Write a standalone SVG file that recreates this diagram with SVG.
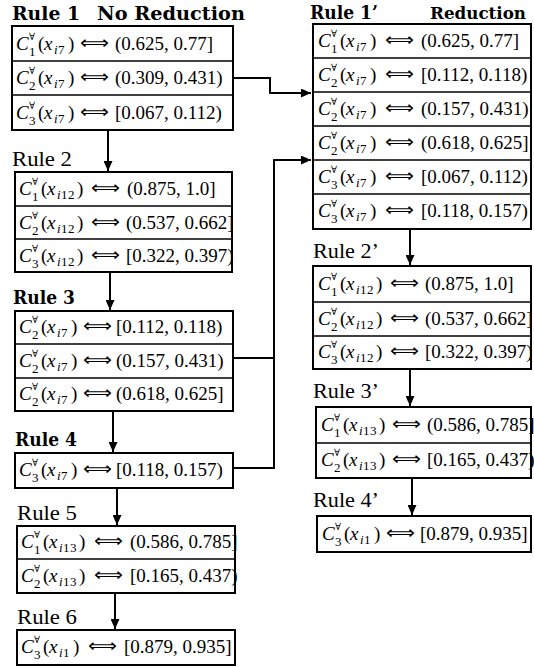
<svg xmlns="http://www.w3.org/2000/svg" width="534" height="668" viewBox="0 0 534 668">
<defs>
<style>
.bx{fill:#fff;stroke:#000;stroke-width:2}
.dv{stroke:#000;stroke-width:1.6}
.m{font-family:"Liberation Serif","DejaVu Serif",serif;font-size:19px;fill:#000}
.i{font-style:italic}
.sp{font-family:"DejaVu Serif",serif;font-size:10px}
.sb{font-size:13px}
.ar{font-family:"DejaVu Sans",sans-serif;font-size:18px;fill:#000}
.t{font-family:"Liberation Serif","DejaVu Serif",serif;font-size:21px;fill:#000}
.b{font-family:"DejaVu Serif",serif;font-weight:bold;font-size:19px}
.cn{fill:none;stroke:#000;stroke-width:2}
</style>
<marker id="ah" markerUnits="userSpaceOnUse" markerWidth="10" markerHeight="9" refX="10" refY="4.5" orient="auto">
<path d="M0,0 L10,4.5 L0,9 z" fill="#000"/>
</marker>
</defs>
<rect width="534" height="668" fill="#fff"/>

<g id="connectors">
<path class="cn" d="M233,78 H270 V93 H311" marker-end="url(#ah)"/>
<path class="cn" d="M233,358 H274 V160 H311" marker-end="url(#ah)"/>
<path class="cn" d="M233,468 H274 V357"/>
<path class="cn" d="M108,131 V171" marker-end="url(#ah)"/>
<path class="cn" d="M110,272 V310" marker-end="url(#ah)"/>
<path class="cn" d="M113,411 V452" marker-end="url(#ah)"/>
<path class="cn" d="M117,488 V525" marker-end="url(#ah)"/>
<path class="cn" d="M115,593 V629" marker-end="url(#ah)"/>
<path class="cn" d="M410,229 V265" marker-end="url(#ah)"/>
<path class="cn" d="M410,369 V406" marker-end="url(#ah)"/>
<path class="cn" d="M412,478 V515" marker-end="url(#ah)"/>
</g>

<g id="rule1">
<text class="t b" x="12" y="20" textLength="68" lengthAdjust="spacingAndGlyphs">Rule 1</text>
<text class="t b" x="97" y="20" textLength="148" lengthAdjust="spacingAndGlyphs">No Reduction</text>
<rect class="bx" x="12" y="26" width="221" height="104"/>
<line class="dv" x1="12" y1="61" x2="233" y2="61"/>
<line class="dv" x1="12" y1="95" x2="233" y2="95"/>
<text class="m" y="50"><tspan class="i" x="16">C</tspan><tspan class="sp" x="29" y="40">∀</tspan><tspan class="sb" x="29" y="56">1</tspan><tspan x="38" y="50">(</tspan><tspan class="i" x="44">x</tspan><tspan class="sb i" x="54" y="54">i</tspan><tspan class="sb" x="58">7</tspan><tspan x="68" y="50">)</tspan></text>
<text class="ar" x="80" y="49" textLength="29" lengthAdjust="spacingAndGlyphs">⟺</text>
<text class="m" x="115" y="50">(0.625, 0.77]</text>
<text class="m" y="84"><tspan class="i" x="16">C</tspan><tspan class="sp" x="29" y="74">∀</tspan><tspan class="sb" x="29" y="90">2</tspan><tspan x="38" y="84">(</tspan><tspan class="i" x="44">x</tspan><tspan class="sb i" x="54" y="88">i</tspan><tspan class="sb" x="58">7</tspan><tspan x="68" y="84">)</tspan></text>
<text class="ar" x="80" y="83" textLength="29" lengthAdjust="spacingAndGlyphs">⟺</text>
<text class="m" x="115" y="84">(0.309, 0.431)</text>
<text class="m" y="119"><tspan class="i" x="16">C</tspan><tspan class="sp" x="29" y="109">∀</tspan><tspan class="sb" x="29" y="125">3</tspan><tspan x="38" y="119">(</tspan><tspan class="i" x="44">x</tspan><tspan class="sb i" x="54" y="123">i</tspan><tspan class="sb" x="58">7</tspan><tspan x="68" y="119">)</tspan></text>
<text class="ar" x="80" y="118" textLength="29" lengthAdjust="spacingAndGlyphs">⟺</text>
<text class="m" x="115" y="119">[0.067, 0.112)</text>
</g>

<g id="rule2">
<text class="t" x="12" y="166" textLength="60" lengthAdjust="spacingAndGlyphs">Rule 2</text>
<rect class="bx" x="15" y="172" width="217" height="100"/>
<line class="dv" x1="15" y1="206" x2="232" y2="206"/>
<line class="dv" x1="15" y1="239" x2="232" y2="239"/>
<text class="m" y="195"><tspan class="i" x="19">C</tspan><tspan class="sp" x="32" y="185">∀</tspan><tspan class="sb" x="32" y="201">1</tspan><tspan x="41" y="195">(</tspan><tspan class="i" x="47">x</tspan><tspan class="sb i" x="57" y="199">i</tspan><tspan class="sb" x="61 68">12</tspan><tspan x="77" y="195">)</tspan></text>
<text class="ar" x="91" y="194" textLength="29" lengthAdjust="spacingAndGlyphs">⟺</text>
<text class="m" x="127" y="195">(0.875, 1.0]</text>
<text class="m" y="229"><tspan class="i" x="19">C</tspan><tspan class="sp" x="32" y="219">∀</tspan><tspan class="sb" x="32" y="235">2</tspan><tspan x="41" y="229">(</tspan><tspan class="i" x="47">x</tspan><tspan class="sb i" x="57" y="233">i</tspan><tspan class="sb" x="61 68">12</tspan><tspan x="77" y="229">)</tspan></text>
<text class="ar" x="91" y="228" textLength="29" lengthAdjust="spacingAndGlyphs">⟺</text>
<text class="m" x="126" y="229">(0.537, 0.662]</text>
<text class="m" y="262"><tspan class="i" x="19">C</tspan><tspan class="sp" x="32" y="252">∀</tspan><tspan class="sb" x="32" y="268">3</tspan><tspan x="41" y="262">(</tspan><tspan class="i" x="47">x</tspan><tspan class="sb i" x="57" y="266">i</tspan><tspan class="sb" x="61 68">12</tspan><tspan x="77" y="262">)</tspan></text>
<text class="ar" x="91" y="261" textLength="29" lengthAdjust="spacingAndGlyphs">⟺</text>
<text class="m" x="126" y="262">[0.322, 0.397)</text>
<rect x="15" y="172" width="217" height="100" fill="none" stroke="#000" stroke-width="2"/>
</g>

<g id="rule3">
<text class="t b" x="13" y="304" textLength="62" lengthAdjust="spacingAndGlyphs">Rule 3</text>
<rect class="bx" x="15" y="311" width="218" height="100"/>
<line class="dv" x1="15" y1="344" x2="233" y2="344"/>
<line class="dv" x1="15" y1="378" x2="233" y2="378"/>
<text class="m" y="333"><tspan class="i" x="19">C</tspan><tspan class="sp" x="32" y="323">∀</tspan><tspan class="sb" x="32" y="339">2</tspan><tspan x="41" y="333">(</tspan><tspan class="i" x="47">x</tspan><tspan class="sb i" x="57" y="337">i</tspan><tspan class="sb" x="61">7</tspan><tspan x="71" y="333">)</tspan></text>
<text class="ar" x="83" y="332" textLength="29" lengthAdjust="spacingAndGlyphs">⟺</text>
<text class="m" x="116" y="333">[0.112, 0.118)</text>
<text class="m" y="367"><tspan class="i" x="19">C</tspan><tspan class="sp" x="32" y="357">∀</tspan><tspan class="sb" x="32" y="373">2</tspan><tspan x="41" y="367">(</tspan><tspan class="i" x="47">x</tspan><tspan class="sb i" x="57" y="371">i</tspan><tspan class="sb" x="61">7</tspan><tspan x="71" y="367">)</tspan></text>
<text class="ar" x="83" y="366" textLength="29" lengthAdjust="spacingAndGlyphs">⟺</text>
<text class="m" x="116" y="367">(0.157, 0.431)</text>
<text class="m" y="400"><tspan class="i" x="19">C</tspan><tspan class="sp" x="32" y="390">∀</tspan><tspan class="sb" x="32" y="406">2</tspan><tspan x="41" y="400">(</tspan><tspan class="i" x="47">x</tspan><tspan class="sb i" x="57" y="404">i</tspan><tspan class="sb" x="61">7</tspan><tspan x="71" y="400">)</tspan></text>
<text class="ar" x="83" y="399" textLength="29" lengthAdjust="spacingAndGlyphs">⟺</text>
<text class="m" x="116" y="400">(0.618, 0.625]</text>
</g>

<g id="rule4">
<text class="t b" x="15" y="446" textLength="62" lengthAdjust="spacingAndGlyphs">Rule 4</text>
<rect class="bx" x="15" y="453" width="218" height="35"/>
<text class="m" y="476"><tspan class="i" x="19">C</tspan><tspan class="sp" x="32" y="466">∀</tspan><tspan class="sb" x="32" y="482">3</tspan><tspan x="41" y="476">(</tspan><tspan class="i" x="47">x</tspan><tspan class="sb i" x="57" y="480">i</tspan><tspan class="sb" x="61">7</tspan><tspan x="71" y="476">)</tspan></text>
<text class="ar" x="83" y="475" textLength="29" lengthAdjust="spacingAndGlyphs">⟺</text>
<text class="m" x="116" y="476">[0.118, 0.157)</text>
</g>

<g id="rule5">
<text class="t" x="17" y="520" textLength="60" lengthAdjust="spacingAndGlyphs">Rule 5</text>
<rect class="bx" x="17" y="526" width="218" height="67"/>
<line class="dv" x1="17" y1="559" x2="235" y2="559"/>
<text class="m" y="548"><tspan class="i" x="21">C</tspan><tspan class="sp" x="34" y="538">∀</tspan><tspan class="sb" x="34" y="554">1</tspan><tspan x="43" y="548">(</tspan><tspan class="i" x="49">x</tspan><tspan class="sb i" x="59" y="552">i</tspan><tspan class="sb" x="63 70">13</tspan><tspan x="79" y="548">)</tspan></text>
<text class="ar" x="94" y="547" textLength="29" lengthAdjust="spacingAndGlyphs">⟺</text>
<text class="m" x="130" y="548">(0.586, 0.785]</text>
<text class="m" y="582"><tspan class="i" x="21">C</tspan><tspan class="sp" x="34" y="572">∀</tspan><tspan class="sb" x="34" y="588">2</tspan><tspan x="43" y="582">(</tspan><tspan class="i" x="49">x</tspan><tspan class="sb i" x="59" y="586">i</tspan><tspan class="sb" x="63 70">13</tspan><tspan x="79" y="582">)</tspan></text>
<text class="ar" x="94" y="581" textLength="29" lengthAdjust="spacingAndGlyphs">⟺</text>
<text class="m" x="130" y="582">[0.165, 0.437)</text>
<rect x="17" y="526" width="218" height="67" fill="none" stroke="#000" stroke-width="2"/>
</g>

<g id="rule6">
<text class="t" x="17" y="624" textLength="60" lengthAdjust="spacingAndGlyphs">Rule 6</text>
<rect class="bx" x="17" y="630" width="218" height="35"/>
<text class="m" y="653"><tspan class="i" x="21">C</tspan><tspan class="sp" x="34" y="643">∀</tspan><tspan class="sb" x="34" y="659">3</tspan><tspan x="43" y="653">(</tspan><tspan class="i" x="49">x</tspan><tspan class="sb i" x="59" y="657">i</tspan><tspan class="sb" x="63">1</tspan><tspan x="73" y="653">)</tspan></text>
<text class="ar" x="88" y="652" textLength="29" lengthAdjust="spacingAndGlyphs">⟺</text>
<text class="m" x="124" y="653">[0.879, 0.935]</text>
</g>

<g id="rule1p">
<text class="t b" x="310" y="19" textLength="68" lengthAdjust="spacingAndGlyphs">Rule 1’</text>
<text class="t b" x="430" y="19" style="font-size:17.5px" textLength="96" lengthAdjust="spacingAndGlyphs">Reduction</text>
<rect class="bx" x="313" y="24" width="218" height="205"/>
<line class="dv" x1="313" y1="58" x2="531" y2="58"/>
<line class="dv" x1="313" y1="92" x2="531" y2="92"/>
<line class="dv" x1="313" y1="126" x2="531" y2="126"/>
<line class="dv" x1="313" y1="160" x2="531" y2="160"/>
<line class="dv" x1="313" y1="194" x2="531" y2="194"/>
<text class="m" y="47"><tspan class="i" x="318">C</tspan><tspan class="sp" x="331" y="37">∀</tspan><tspan class="sb" x="331" y="53">1</tspan><tspan x="340" y="47">(</tspan><tspan class="i" x="346">x</tspan><tspan class="sb i" x="356" y="51">i</tspan><tspan class="sb" x="360">7</tspan><tspan x="370" y="47">)</tspan></text>
<text class="ar" x="385" y="46" textLength="29" lengthAdjust="spacingAndGlyphs">⟺</text>
<text class="m" x="421" y="47">(0.625, 0.77]</text>
<text class="m" y="81"><tspan class="i" x="318">C</tspan><tspan class="sp" x="331" y="71">∀</tspan><tspan class="sb" x="331" y="87">2</tspan><tspan x="340" y="81">(</tspan><tspan class="i" x="346">x</tspan><tspan class="sb i" x="356" y="85">i</tspan><tspan class="sb" x="360">7</tspan><tspan x="370" y="81">)</tspan></text>
<text class="ar" x="385" y="80" textLength="29" lengthAdjust="spacingAndGlyphs">⟺</text>
<text class="m" x="421" y="81">[0.112, 0.118)</text>
<text class="m" y="115"><tspan class="i" x="318">C</tspan><tspan class="sp" x="331" y="105">∀</tspan><tspan class="sb" x="331" y="121">2</tspan><tspan x="340" y="115">(</tspan><tspan class="i" x="346">x</tspan><tspan class="sb i" x="356" y="119">i</tspan><tspan class="sb" x="360">7</tspan><tspan x="370" y="115">)</tspan></text>
<text class="ar" x="385" y="114" textLength="29" lengthAdjust="spacingAndGlyphs">⟺</text>
<text class="m" x="421" y="115">(0.157, 0.431)</text>
<text class="m" y="149"><tspan class="i" x="318">C</tspan><tspan class="sp" x="331" y="139">∀</tspan><tspan class="sb" x="331" y="155">2</tspan><tspan x="340" y="149">(</tspan><tspan class="i" x="346">x</tspan><tspan class="sb i" x="356" y="153">i</tspan><tspan class="sb" x="360">7</tspan><tspan x="370" y="149">)</tspan></text>
<text class="ar" x="385" y="148" textLength="29" lengthAdjust="spacingAndGlyphs">⟺</text>
<text class="m" x="421" y="149">(0.618, 0.625]</text>
<text class="m" y="183"><tspan class="i" x="318">C</tspan><tspan class="sp" x="331" y="173">∀</tspan><tspan class="sb" x="331" y="189">3</tspan><tspan x="340" y="183">(</tspan><tspan class="i" x="346">x</tspan><tspan class="sb i" x="356" y="187">i</tspan><tspan class="sb" x="360">7</tspan><tspan x="370" y="183">)</tspan></text>
<text class="ar" x="385" y="182" textLength="29" lengthAdjust="spacingAndGlyphs">⟺</text>
<text class="m" x="421" y="183">[0.067, 0.112)</text>
<text class="m" y="217"><tspan class="i" x="318">C</tspan><tspan class="sp" x="331" y="207">∀</tspan><tspan class="sb" x="331" y="223">3</tspan><tspan x="340" y="217">(</tspan><tspan class="i" x="346">x</tspan><tspan class="sb i" x="356" y="221">i</tspan><tspan class="sb" x="360">7</tspan><tspan x="370" y="217">)</tspan></text>
<text class="ar" x="385" y="216" textLength="29" lengthAdjust="spacingAndGlyphs">⟺</text>
<text class="m" x="421" y="217">[0.118, 0.157)</text>
</g>

<g id="rule2p">
<text class="t" x="313" y="258" textLength="66" lengthAdjust="spacingAndGlyphs">Rule 2’</text>
<rect class="bx" x="313" y="266" width="218" height="103"/>
<line class="dv" x1="313" y1="302" x2="531" y2="302"/>
<line class="dv" x1="313" y1="336" x2="531" y2="336"/>
<text class="m" y="290"><tspan class="i" x="318">C</tspan><tspan class="sp" x="331" y="280">∀</tspan><tspan class="sb" x="331" y="296">1</tspan><tspan x="340" y="290">(</tspan><tspan class="i" x="346">x</tspan><tspan class="sb i" x="356" y="294">i</tspan><tspan class="sb" x="360 367">12</tspan><tspan x="376" y="290">)</tspan></text>
<text class="ar" x="390" y="289" textLength="29" lengthAdjust="spacingAndGlyphs">⟺</text>
<text class="m" x="425" y="290">(0.875, 1.0]</text>
<text class="m" y="325"><tspan class="i" x="318">C</tspan><tspan class="sp" x="331" y="315">∀</tspan><tspan class="sb" x="331" y="331">2</tspan><tspan x="340" y="325">(</tspan><tspan class="i" x="346">x</tspan><tspan class="sb i" x="356" y="329">i</tspan><tspan class="sb" x="360 367">12</tspan><tspan x="376" y="325">)</tspan></text>
<text class="ar" x="390" y="324" textLength="29" lengthAdjust="spacingAndGlyphs">⟺</text>
<text class="m" x="425" y="325">(0.537, 0.662]</text>
<text class="m" y="358"><tspan class="i" x="318">C</tspan><tspan class="sp" x="331" y="348">∀</tspan><tspan class="sb" x="331" y="364">3</tspan><tspan x="340" y="358">(</tspan><tspan class="i" x="346">x</tspan><tspan class="sb i" x="356" y="362">i</tspan><tspan class="sb" x="360 367">12</tspan><tspan x="376" y="358">)</tspan></text>
<text class="ar" x="390" y="357" textLength="29" lengthAdjust="spacingAndGlyphs">⟺</text>
<text class="m" x="425" y="358">[0.322, 0.397)</text>
<rect x="313" y="266" width="218" height="103" fill="none" stroke="#000" stroke-width="2"/>
</g>

<g id="rule3p">
<text class="t" x="313" y="398" textLength="66" lengthAdjust="spacingAndGlyphs">Rule 3’</text>
<rect class="bx" x="316" y="407" width="215" height="71"/>
<line class="dv" x1="316" y1="443" x2="531" y2="443"/>
<text class="m" y="431"><tspan class="i" x="321">C</tspan><tspan class="sp" x="334" y="421">∀</tspan><tspan class="sb" x="334" y="437">1</tspan><tspan x="343" y="431">(</tspan><tspan class="i" x="349">x</tspan><tspan class="sb i" x="359" y="435">i</tspan><tspan class="sb" x="363 370">13</tspan><tspan x="379" y="431">)</tspan></text>
<text class="ar" x="392" y="430" textLength="29" lengthAdjust="spacingAndGlyphs">⟺</text>
<text class="m" x="427" y="431">(0.586, 0.785]</text>
<text class="m" y="466"><tspan class="i" x="321">C</tspan><tspan class="sp" x="334" y="456">∀</tspan><tspan class="sb" x="334" y="472">2</tspan><tspan x="343" y="466">(</tspan><tspan class="i" x="349">x</tspan><tspan class="sb i" x="359" y="470">i</tspan><tspan class="sb" x="363 370">13</tspan><tspan x="379" y="466">)</tspan></text>
<text class="ar" x="392" y="465" textLength="29" lengthAdjust="spacingAndGlyphs">⟺</text>
<text class="m" x="427" y="466">[0.165, 0.437)</text>
<rect x="316" y="407" width="215" height="71" fill="none" stroke="#000" stroke-width="2"/>
</g>

<g id="rule4p">
<text class="t" x="313" y="507" textLength="66" lengthAdjust="spacingAndGlyphs">Rule 4’</text>
<rect class="bx" x="317" y="516" width="214" height="36"/>
<text class="m" y="540"><tspan class="i" x="322">C</tspan><tspan class="sp" x="335" y="530">∀</tspan><tspan class="sb" x="335" y="546">3</tspan><tspan x="344" y="540">(</tspan><tspan class="i" x="350">x</tspan><tspan class="sb i" x="360" y="544">i</tspan><tspan class="sb" x="364">1</tspan><tspan x="374" y="540">)</tspan></text>
<text class="ar" x="386" y="539" textLength="29" lengthAdjust="spacingAndGlyphs">⟺</text>
<text class="m" x="420" y="540">[0.879, 0.935]</text>
</g>
</svg>
